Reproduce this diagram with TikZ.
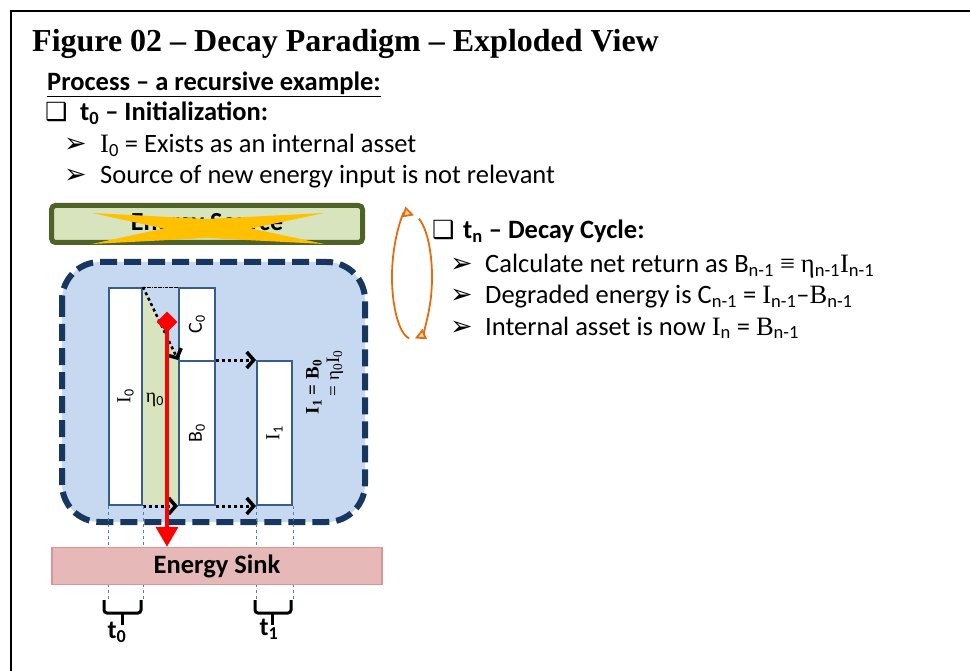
\documentclass[tikz,border=0pt]{standalone}
\usepackage{fontspec}
\setmainfont{Carlito}
\newfontfamily\serif{Liberation Serif}
\newfontfamily\dingfont{DejaVu Sans}
\usetikzlibrary{arrows.meta,positioning,shapes.geometric}

\definecolor{srcgreen}{HTML}{D7E4BD}
\definecolor{srcline}{HTML}{4F6228}
\definecolor{sysblue}{HTML}{C6D9F1}
\definecolor{sysline}{HTML}{17375E}
\definecolor{barline}{HTML}{385D8A}
\definecolor{sinkfill}{HTML}{E6B9B8}
\definecolor{sinkline}{HTML}{D99694}
\definecolor{crossgold}{HTML}{FFC000}
\definecolor{cycorange}{HTML}{E46C0A}
\definecolor{cyclite}{HTML}{FBD5B5}
\definecolor{guideblue}{HTML}{4F81BD}

\newcommand{\boxbullet}{{\dingfont\fontsize{25}{25}\selectfont ❑}}
\newcommand{\arrbullet}{{\dingfont\fontsize{27}{27}\selectfont ➢}}
\newcommand{\sI}{{\serif I}}
\newcommand{\sB}{{\serif B}}
\newcommand{\seta}{{\serif η}}
\newcommand{\lo}[1]{\textsubscript{#1}}

\begin{document}
\begin{tikzpicture}[x=1pt,y=-1pt,
  txt/.style={anchor=base west,inner sep=0pt,font=\fontsize{26.5}{30}\selectfont},
  bold/.style={font=\bfseries\fontsize{26.5}{30}\selectfont},
  bar/.style={draw=barline,line width=2pt,fill=white,inner sep=0pt,anchor=north west},
  barlabel/.style={rotate=90,inner sep=0pt,font=\fontsize{20}{22}\selectfont},
  flow/.style={line width=3pt,dash pattern=on 3pt off 3pt,
    -{Straight Barb[length=7pt,width=16pt,line width=3.5pt]}},
  guide/.style={guideblue,thin,dashed},
  brace/.style={line width=3pt,rounded corners=3pt},
  cyc/.style={cycorange,line width=1.8pt,-{Triangle[length=11pt,width=11pt,fill=cyclite]}}
]
\useasboundingbox (0,0) rectangle (970,671);

% --- Cornice ---
\draw[line width=2.5pt] (11,671) -- (11,11) -- (970,11);

% --- Testo a sinistra ---
\node[txt,font=\serif\bfseries\fontsize{32}{36}\selectfont] (title) at (32,52)
  {Figure 02 – Decay Paradigm – Exploded View};
\node[txt,bold] (process) at (47,91) {\underline{Process – a recursive example:}};
\node[txt] (initbox) at (45,121) {\boxbullet};
\node[txt,bold] (init) at (80,121) {t\lo{0} – Initialization:};
\node[txt] (arrA) at (64,153) {\arrbullet};
\node[txt] (exists) at (100,153) {\sI\lo{0} = Exists as an internal asset};
\node[txt] (arrB) at (64,184) {\arrbullet};
\node[txt] (source-txt) at (100,184) {Source of new energy input is not relevant};

% --- Testo a destra ---
\node[txt] (cycbox) at (432,239) {\boxbullet};
\node[txt,bold] (cycle) at (463,239) {t\lo{n} – Decay Cycle:};
\node[txt] (arrC) at (450,273) {\arrbullet};
\node[txt] (calc) at (485,273)
  {Calculate net return as B\lo{n-1} {\serif ≡} \seta\lo{n-1}\sI\lo{n-1}};
\node[txt] (arrD) at (450,304) {\arrbullet};
\node[txt] (degr) at (485,304)
  {Degraded energy is C\lo{n-1} = \sI\lo{n-1}–\sB\lo{n-1}};
\node[txt] (arrE) at (450,335) {\arrbullet};
\node[txt] (intern) at (485,335) {Internal asset is now \sI\lo{n} = \sB\lo{n-1}};

% --- Ciclo ---
\coordinate (cyc) at (412,277);
\draw[cyc] (cyc) ++({20*cos(-262)},{62*sin(-262)})
  arc[start angle=-262,end angle=-84,x radius=20,y radius=62];
\draw[cyc] (cyc) ++({20*cos(-70)},{62*sin(-70)})
  arc[start angle=-70,end angle=82,x radius=20,y radius=62];

% --- Sorgente (esclusa) ---
\node[draw=srcline,fill=srcgreen,line width=5pt,rounded corners=4pt,
  minimum width=311pt,minimum height=37pt,
  font=\bfseries\fontsize{26}{28}\selectfont] (source) at (207,224) {Energy Source};
\fill[crossgold] (92,213) -- (207,219) -- (324,244) -- (207,238) -- cycle;
\fill[crossgold] (92,244) -- (207,238) -- (324,213) -- (207,219) -- cycle;

% --- Sistema ---
\draw[sysline,fill=sysblue,line width=6pt,dash pattern=on 17pt off 7pt,rounded corners=38pt]
  (62,262) rectangle (365,522);
\fill[srcgreen] (142,288) -- (178,360) -- (178,504) -- (142,504) -- cycle;

\node[bar,minimum width=33pt,minimum height=217pt] (I0) at (108,287) {};
\node[bar,minimum width=36pt,minimum height=73pt] (C0) at (178,287) {};
\node[bar,minimum width=36pt,minimum height=144pt] (B0) at (178,360) {};
\node[bar,minimum width=35pt,minimum height=144pt] (I1) at (256,360) {};

\node[barlabel] at (I0) {\sI\lo{0}};
\node[barlabel] at (C0) {C\lo{0}};
\node[barlabel] at (B0) {B\lo{0}};
\node[barlabel] at (I1) {\sI\lo{1}};
\node[inner sep=0pt,font=\fontsize{20}{22}\selectfont] (eta) at (155,400) {\seta\lo{0}};
\node[barlabel,font=\serif\bfseries\fontsize{19}{22}\selectfont] (eqA) at (314,387)
  {I\lo{1} = B\lo{0}};
\node[barlabel,font=\serif\fontsize{19}{22}\selectfont] (eqB) at (335,373)
  {= η\lo{0}I\lo{0}};

\draw[densely dash dot,thin] (I0.north east) -- (C0.north west);
\draw[flow,line width=2.5pt] (I0.north east) -- (B0.north west);
\draw[flow] (B0.north east) -- (I1.north west);
\draw[flow] (I0.south east) -- (B0.south west);
\draw[flow] (B0.south east) -- (I1.south west);

% --- Linee guida ---
\draw[guide] (I0.south west) -- ++(0,95);
\draw[guide] (I0.south east) -- ++(0,95);
\draw[guide] (I1.south west) -- ++(0,95);
\draw[guide] (I1.south east) -- ++(0,95);

% --- Pozzo ---
\node[draw=sinkline,fill=sinkfill,line width=1.5pt,minimum width=330pt,minimum height=37pt,
  font=\bfseries\fontsize{26.5}{28}\selectfont] (sink) at (217,566) {Energy Sink};

\node[diamond,fill=red,minimum size=21pt,inner sep=0pt] (valve) at (167,322) {};
\draw[red,line width=4pt,-{Triangle[length=20pt,width=22pt]}] (valve.center) -- (valve |- sink.north);

% --- Intervalli ---
\draw[brace] (104,600) -- (104,613) -- (141,613) -- (141,600);
\draw[line width=3pt] (122,613) -- (122,625);
\node[anchor=north,inner sep=0pt,font=\bfseries\fontsize{26}{28}\selectfont] (t0) at (117,622) {t\lo{0}};
\draw[brace] (255,600) -- (255,613) -- (291,613) -- (291,600);
\draw[line width=3pt] (272,613) -- (272,625);
\node[anchor=north,inner sep=0pt,font=\bfseries\fontsize{26}{28}\selectfont] (t1) at (269,619) {t\lo{1}};
\end{tikzpicture}
\end{document}
